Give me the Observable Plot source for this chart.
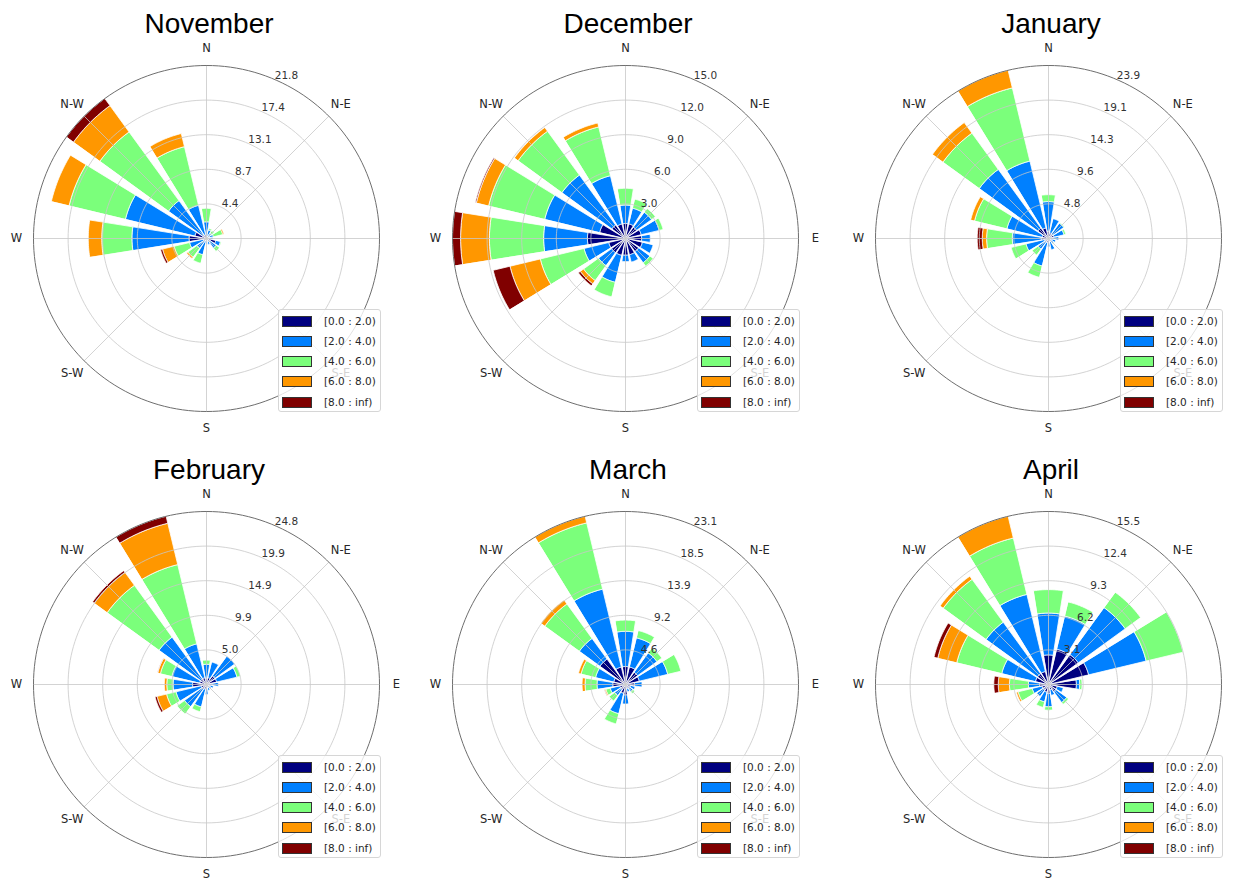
<!DOCTYPE html>
<html>
<head>
<meta charset="utf-8">
<script src="https://cdn.jsdelivr.net/npm/d3@7"></script>
<script src="https://cdn.jsdelivr.net/npm/@observablehq/plot@0.6"></script>
<style>
  html, body { margin: 0; padding: 0; background: #fff; }
  body { width: 1235px; height: 879px; position: relative; overflow: hidden; }
  .panel { position: absolute; }
  .panel svg { overflow: visible; background: transparent !important; }
  .title { position: absolute; width: 300px; text-align: center; font-family: "Liberation Sans", Arial, sans-serif;
           font-size: 28px; line-height: 28px; color: #000; white-space: nowrap; }
  .legend { position: absolute; width: 103px; height: 103px; box-sizing: border-box; border: 1px solid #d6d6d6;
            border-radius: 3px; background: rgba(255,255,255,0.8); font-family: "DejaVu Sans", sans-serif; }
  .legend .sw { position: absolute; left: 3px; width: 30px; height: 11px; box-sizing: border-box; border: 1px solid #333; }
  .legend .lab { position: absolute; left: 45px; font-size: 10.5px; line-height: 12px; color: #262626; white-space: nowrap; }
</style>
</head>
<body>
<script>
// ---------- data ----------
const directions = ["N","NNE","NE","ENE","E","ESE","SE","SSE","S","SSW","SW","WSW","W","WNW","NW","NNW"];
const dirLabels = ["N","N-E","E","S-E","S","S-W","W","N-W"];
const speedBins = ["[0.0 : 2.0)","[2.0 : 4.0)","[4.0 : 6.0)","[6.0 : 8.0)","[8.0 : inf)"];
const binColors = ["#000080","#0080ff","#7bff7b","#ff9700","#800000"];
const months = ["November","December","January","February","March","April"];

// frequency (%) per direction (rows, N clockwise) and speed bin (columns)
const november = [
  [0.3,1.8,1.7,0,0],[0.3,0.8,0.2,0,0],[0.3,0.5,0.4,0,0],[0.3,0.6,1.2,0.15,0],
  [0.4,0.4,0,0,0],[1.2,0.6,0.1,0,0],[0.5,1.0,0.5,0,0],[0.3,0.5,0,0,0],
  [0.3,0.4,0,0,0],[0.3,1.8,1.1,0,0],[0.3,1.2,1.4,0.2,0],[0.4,1.8,2.0,1.5,0.25],
  [2.2,7.2,3.8,1.7,0],[1.5,9.0,7.3,2.3,0],[0.5,5.4,10.7,4.1,1.1],[0.5,3.8,7.6,1.7,0]
];
const december = [
  [1.3,1.6,1.45,0,0],[1.3,1.4,0.8,0,0],[1.2,1.6,0.4,0,0],[1.4,1.6,0.35,0,0],
  [1.4,0.75,0,0,0],[1.5,0.95,0,0,0],[1.4,1.2,0.35,0,0],[1.45,0.65,0,0,0],
  [1.45,0.55,0,0,0],[1.5,2.4,1.3,0,0],[1.5,1.4,1.6,0.35,0.2],[1.5,2.2,3.9,2.7,1.5],
  [3.3,3.8,4.7,2.5,0.7],[2.3,4.9,5.0,1.1,0.1],[1.45,5.35,4.7,0.4,0],[1.3,4.3,4.35,0.35,0]
];
const january = [
  [1.0,4.1,0.95,0,0],[0.8,2.0,0,0,0],[0.7,1.9,0.1,0,0],[0.8,1.4,0.25,0,0],
  [0.6,0.8,0,0,0],[0.5,0.5,0,0,0],[0.4,0.5,0.1,0,0],[0.5,1.1,0,0,0],
  [0.5,0.65,0,0,0],[0.6,3.3,1.6,0,0],[0.5,1.3,1.0,0,0],[0.6,2.6,2.1,0,0],
  [1.0,4.0,3.55,0.6,0.7],[0.9,5.0,4.6,0.55,0],[1.8,10.0,6.2,1.8,0],[1.5,9.5,10.4,2.5,0]
];
const february = [
  [0.9,2.0,0.6,0,0],[1.0,2.3,0,0,0],[1.5,3.5,0,0,0],[1.5,3.0,0.5,0,0],
  [0.8,0.9,0,0,0],[0.5,0.5,0,0,0],[0.4,0.4,0,0,0],[0.45,0.45,0,0,0],
  [0.5,0.9,0,0,0],[0.7,2.6,0.7,0,0],[0.8,3.1,1.3,0,0],[0.8,3.7,1.4,1.4,0.3],
  [2.0,2.8,0.9,0.35,0],[1.0,4.1,1.7,0.4,0.05],[1.0,7.4,9.2,2.3,0.3],[1.0,5.0,11.7,6.1,1.03]
];
const march = [
  [2.4,4.7,1.5,0,0],[2.4,4.0,1.0,0,0],[2.0,3.2,0.8,0,0],[1.9,3.9,1.8,0,0],
  [1.2,1.0,0,0,0],[0.7,0.6,0,0,0],[0.6,0.6,0.3,0,0],[0.6,0.4,0,0,0],
  [1.4,1.2,0,0,0],[1.2,2.8,1.4,0,0],[0.8,1.0,0.9,0,0],[0.8,1.3,0.6,0.15,0.05],
  [1.7,2.1,1.6,0.4,0],[1.6,2.5,2.0,0.35,0],[4.2,3.4,5.7,0.65,0],[2.4,10.7,9.1,0.9,0]
];
const april = [
  [2.65,3.75,2.1,0,0],[3.25,3.05,1.3,0,0],[3.3,5.2,1.7,0,0],[3.7,5.3,3.4,0,0],
  [2.5,0.3,0.2,0,0],[0.8,0.55,0,0,0],[0.8,1.2,0.2,0,0],[0.5,0.5,0,0,0],
  [0.8,1.2,0.3,0,0],[0.7,0.9,0.5,0,0],[0.6,0.7,0,0,0],[0.6,0.9,1.3,0.15,0],
  [0.8,1.0,1.7,1.0,0.4],[1.2,3.1,4.15,1.75,0.35],[1.2,5.7,4.75,0.35,0],[1.2,7.1,5.2,2.0,0]
];
const tables = [november, december, january, february, march, april];

// radial axis maximum and ring tick labels per month
const rmaxValues = [21.8, 15.0, 23.9, 24.83, 23.1, 15.5];
const ringLabelsNov = ["4.4","8.7","13.1","17.4","21.8"];
const ringLabelsDec = ["3.0","6.0","9.0","12.0","15.0"];
const ringLabelsJan = ["4.8","9.6","14.3","19.1","23.9"];
const ringLabelsFeb = ["5.0","9.9","14.9","19.9","24.8"];
const ringLabelsMar = ["4.6","9.2","13.9","18.5","23.1"];
const ringLabelsApr = ["3.1","6.2","9.3","12.4","15.5"];
const ringLabels = [ringLabelsNov, ringLabelsDec, ringLabelsJan, ringLabelsFeb, ringLabelsMar, ringLabelsApr];
// direction labels not visible in the reference (covered by the neighbouring panel or off the page)
const hiddenDirLabels = [["E"], [], ["E"], [], [], ["E"]];

// ---------- layout ----------
const R = 173;                 // outer circle radius in px
const colCenters = [206, 625, 1048];
const rowTops = [0, 446];
const rowHeights = [446, 433];
const OX = 205, OY = 238, PW = 390;

const toRad = d => d * Math.PI / 180;

function makePanel(idx) {
  const col = idx % 3, row = Math.floor(idx / 3);
  const table = tables[idx], rmax = rmaxValues[idx], rings = ringLabels[idx];
  const H = rowHeights[row];
  const k = rmax / R;
  const sector = 360 / directions.length;
  const half = 0.8 * sector / 2;
  const steps = 16;

  // wedge polygons
  const wedges = [];
  table.forEach((vals, i) => {
    const th = i * sector;
    let base = 0;
    vals.forEach((v, j) => {
      if (v > 0) {
        const id = i * 10 + j;
        const top = base + v;
        for (let s = 0; s <= steps; s++) {
          const a = toRad(th - half + 2 * half * s / steps);
          wedges.push({id, bin: speedBins[j], x: top * Math.sin(a), y: top * Math.cos(a)});
        }
        if (base > 0) {
          for (let s = steps; s >= 0; s--) {
            const a = toRad(th - half + 2 * half * s / steps);
            wedges.push({id, bin: speedBins[j], x: base * Math.sin(a), y: base * Math.cos(a)});
          }
        } else {
          wedges.push({id, bin: speedBins[j], x: 0, y: 0});
        }
      }
      base += v;
    });
  });

  // grid circles
  const circlePts = [];
  rings.forEach((lab, r) => {
    const rr = rmax * (r + 1) / rings.length;
    for (let s = 0; s < 180; s++) {
      const a = toRad(s * 2);
      circlePts.push({ring: r, outer: r === rings.length - 1, x: rr * Math.sin(a), y: rr * Math.cos(a)});
    }
  });
  const spokes = dirLabels.map((d, i) => ({a: toRad(i * 45)}));

  const labR = rmax * 190 / R;
  const dirData = dirLabels.map((d, i) => ({d, a: toRad(i * 45)})).filter(o => !hiddenDirLabels[idx].includes(o.d));
  const ringData = rings.map((t, i) => ({t, r: rmax * (i + 1) / rings.length}));
  const ringAngle = toRad(22.5);

  const svg = Plot.plot({
    width: PW,
    height: H,
    margin: 0,
    x: {domain: [-OX * k, (PW - OX) * k], axis: null},
    y: {domain: [-(H - OY) * k, OY * k], axis: null},
    color: {domain: speedBins, range: binColors},
    style: {fontFamily: "DejaVu Sans, sans-serif", background: "transparent", overflow: "visible"},
    marks: [
      Plot.line(wedges, {x: "x", y: "y", z: "id", fill: "bin", stroke: "#fff", strokeWidth: 0.8,
                         strokeLinejoin: "miter", curve: "linear-closed"}),
      Plot.line(circlePts.filter(d => !d.outer), {x: "x", y: "y", z: "ring", stroke: "#c8c8c8", strokeWidth: 0.8, curve: "linear-closed"}),
      Plot.link(spokes, {x1: 0, y1: 0, x2: d => rmax * Math.sin(d.a), y2: d => rmax * Math.cos(d.a), stroke: "#c8c8c8", strokeWidth: 0.8}),
      Plot.line(circlePts.filter(d => d.outer), {x: "x", y: "y", z: "ring", stroke: "#6e6e6e", strokeWidth: 1, curve: "linear-closed"}),
      Plot.text(dirData, {x: d => labR * Math.sin(d.a), y: d => labR * Math.cos(d.a), text: "d",
                          fontSize: 11.5, fill: "#262626", textAnchor: "middle", lineAnchor: "middle"}),
      Plot.text(ringData, {x: d => d.r * Math.sin(ringAngle), y: d => d.r * Math.cos(ringAngle), text: "t",
                           fontSize: 10.5, fill: "#333", textAnchor: "start", lineAnchor: "bottom", dx: 2})
    ]
  });

  const wrap = document.createElement("div");
  wrap.className = "panel";
  wrap.style.left = (colCenters[col] - OX) + "px";
  wrap.style.top = rowTops[row] + "px";
  wrap.style.width = PW + "px";
  wrap.style.height = H + "px";
  wrap.appendChild(svg);

  const title = document.createElement("div");
  title.className = "title";
  title.textContent = months[idx];
  title.style.left = (OX + 3 - 150) + "px";
  title.style.top = "10px";
  wrap.appendChild(title);

  const leg = document.createElement("div");
  leg.className = "legend";
  leg.style.left = (OX + 72) + "px";
  leg.style.top = (OY + 71) + "px";
  speedBins.forEach((b, i) => {
    const cyy = 11 + i * 20.3;
    const sw = document.createElement("div");
    sw.className = "sw";
    sw.style.top = (cyy - 5.5) + "px";
    sw.style.background = binColors[i];
    leg.appendChild(sw);
    const lab = document.createElement("div");
    lab.className = "lab";
    lab.style.top = (cyy - 6.5) + "px";
    lab.textContent = b;
    leg.appendChild(lab);
  });
  wrap.appendChild(leg);

  document.body.appendChild(wrap);
}

months.forEach((m, i) => makePanel(i));
</script>
</body>
</html>
